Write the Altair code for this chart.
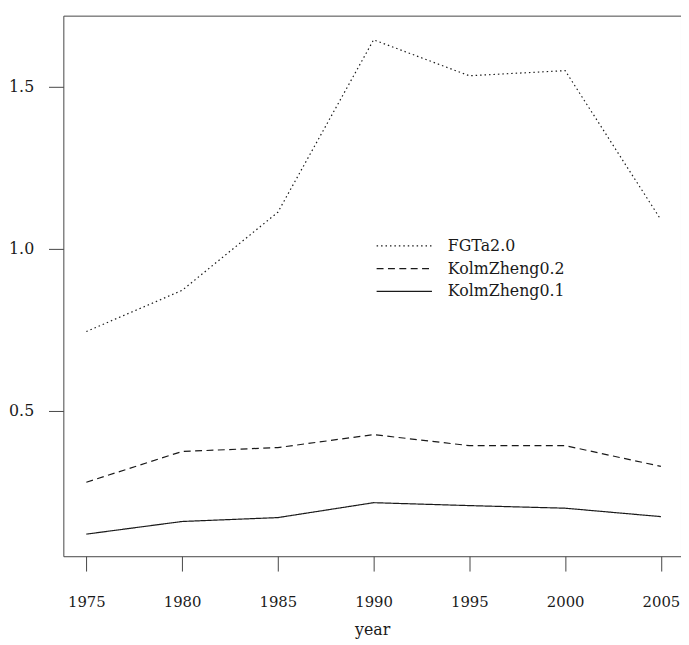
import altair as alt
import pandas as pd

years = [1975, 1980, 1985, 1990, 1995, 2000, 2005]
fgt_a2 = [0.745, 0.872, 1.113, 1.645, 1.534, 1.550, 1.090]
kz_02 = [0.280, 0.375, 0.387, 0.427, 0.393, 0.393, 0.329]
kz_01 = [0.120, 0.159, 0.171, 0.217, 0.208, 0.200, 0.174]
series_names = ["FGTa2.0", "KolmZheng0.2", "KolmZheng0.1"]
y_ticks = [0.5, 1.0, 1.5]

dash_range = [[1.5, 3], [7, 4.5], [1, 0]]
FONT = "DejaVu Serif"
INK = "#1a1a1a"

rows = []
for name, vals in zip(series_names, [fgt_a2, kz_02, kz_01]):
    for yr, v in zip(years, vals):
        rows.append({"year": yr, "value": v, "series": name})
df = pd.DataFrame(rows)

x_scale = alt.Scale(domain=[1973.8, 2006.05], nice=False, zero=False)
y_scale = alt.Scale(domain=[0.0518, 1.7195], nice=False, zero=False)

lines = alt.Chart(df).mark_line(color=INK, strokeWidth=1.2).encode(
    x=alt.X("year:Q", scale=x_scale,
            axis=alt.Axis(values=years, format="d", title="year", tickSize=15,
                          labelPadding=24, domain=False, grid=False,
                          titleY=79, titleBaseline="alphabetic",
                          labelFont=FONT, labelFontSize=15, labelColor=INK,
                          titleFont=FONT, titleFontSize=16, titleColor=INK,
                          titleFontWeight="normal",
                          tickColor="#444444", tickWidth=1)),
    y=alt.Y("value:Q", scale=y_scale,
            axis=alt.Axis(values=y_ticks, format=".1f", title=None, tickSize=15,
                          labelPadding=15, domain=False, grid=False, labelAngle=0,
                          labelFont=FONT, labelFontSize=16, labelColor=INK,
                          tickColor="#444444", tickWidth=1)),
    strokeDash=alt.StrokeDash("series:N",
                              scale=alt.Scale(domain=series_names, range=dash_range),
                              legend=None),
    detail="series:N",
)

leg_df = pd.DataFrame({"name": series_names})
leg_layers = []
for i, (name, dash) in enumerate(zip(series_names, dash_range)):
    sub = leg_df[leg_df["name"] == name]
    yy = 233 + i * 23
    leg_layers.append(
        alt.Chart(sub).mark_rule(color=INK, strokeWidth=1.2, strokeDash=dash).encode(
            x=alt.value(317), x2=alt.value(373), y=alt.value(yy))
    )
    leg_layers.append(
        alt.Chart(sub).mark_text(align="left", baseline="middle", font=FONT,
                                 fontSize=16, color=INK).encode(
            x=alt.value(389), y=alt.value(yy), text="name:N")
    )

chart = alt.layer(lines, *leg_layers).properties(
    width=625, height=547,
    autosize=alt.AutoSizeParams(type="none"),
    padding={"left": 56, "top": 4, "right": 0, "bottom": 80},
    background="white",
).configure_view(
    stroke="#444444", strokeWidth=1
)

chart.save("out.html", embed_options={"renderer": "svg", "actions": False})
